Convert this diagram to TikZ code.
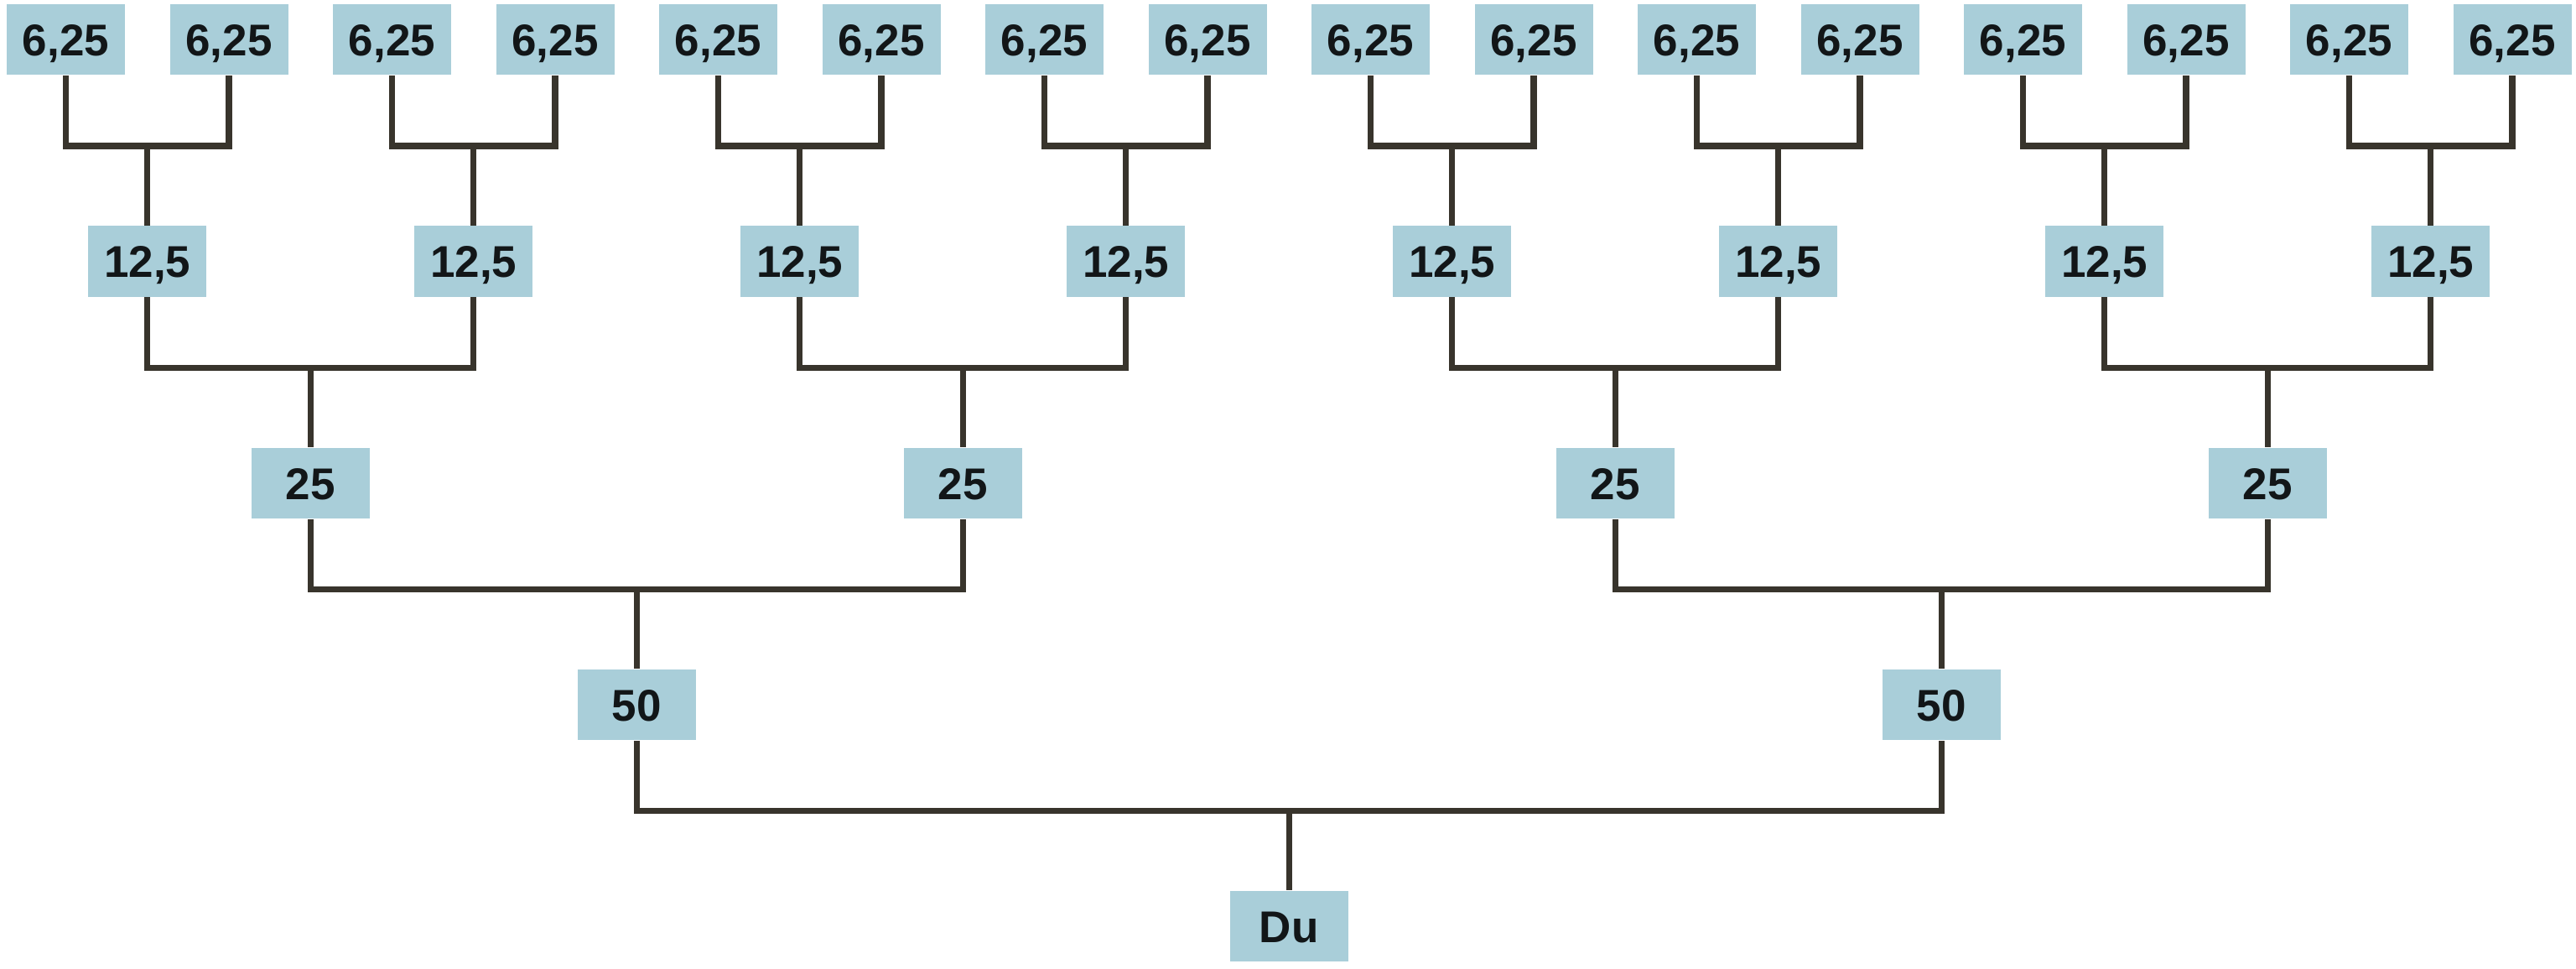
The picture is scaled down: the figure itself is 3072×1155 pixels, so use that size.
\documentclass[tikz,border=0pt]{standalone}
\usepackage{fontspec}
\setmainfont{Liberation Sans}
\definecolor{boxblue}{RGB}{169,206,217}
\definecolor{linecol}{RGB}{56,52,44}
\definecolor{txtcol}{RGB}{18,22,24}
\tikzset{
  val/.style={fill=boxblue, minimum width=35.25pt, minimum height=21pt, inner sep=0pt,
    font=\fontsize{13.25pt}{15pt}\selectfont\bfseries, text=txtcol,
    text height=9.5pt, text depth=0pt},
  conn/.style={draw=linecol, line width=1.85pt, line join=miter}
}
\begin{document}
\begin{tikzpicture}[x=0.25pt,y=-0.25pt]
\useasboundingbox (0,0) rectangle (3072,1155);
% nodes
\foreach \i in {0,...,15} \node[val] (l\i) at ({78.5+194.5*\i},47.5) {6,25};
\foreach \i in {0,...,7} \node[val] (m\i) at ({175.75+389*\i},311.5) {12,5};
\foreach \i in {0,...,3} \node[val] (n\i) at ({370.25+778*\i},576) {25};
\foreach \i in {0,...,1} \node[val] (p\i) at ({759.25+1556*\i},840) {50};
\node[val] (du) at (1537.25,1104) {Du};
% connectors
\foreach \k in {0,...,7} {
  \pgfmathtruncatemacro\a{2*\k}
  \pgfmathtruncatemacro\b{2*\k+1}
  \coordinate (jm\k) at ([yshift=23.625pt]m\k.north);
  \draw[conn] (l\a.south) |- (jm\k) -| (l\b.south);
  \draw[conn] (jm\k) -- (m\k.north);
}
\foreach \k in {0,...,3} {
  \pgfmathtruncatemacro\a{2*\k}
  \pgfmathtruncatemacro\b{2*\k+1}
  \coordinate (jn\k) at ([yshift=23.625pt]n\k.north);
  \draw[conn] (m\a.south) |- (jn\k) -| (m\b.south);
  \draw[conn] (jn\k) -- (n\k.north);
}
\foreach \k in {0,...,1} {
  \pgfmathtruncatemacro\a{2*\k}
  \pgfmathtruncatemacro\b{2*\k+1}
  \coordinate (jp\k) at ([yshift=23.625pt]p\k.north);
  \draw[conn] (n\a.south) |- (jp\k) -| (n\b.south);
  \draw[conn] (jp\k) -- (p\k.north);
}
\coordinate (jdu) at ([yshift=23.625pt]du.north);
\draw[conn] (p0.south) |- (jdu) -| (p1.south);
\draw[conn] (jdu) -- (du.north);
\end{tikzpicture}
\end{document}
